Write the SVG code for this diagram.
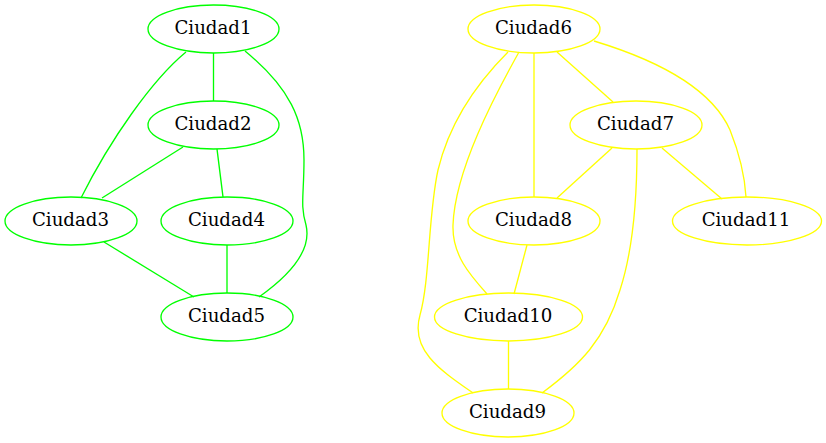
<svg xmlns="http://www.w3.org/2000/svg" width="826" height="443" viewBox="0 0 826 443">
<style>
.g ellipse{fill:none;stroke:#00ff00;stroke-width:1.33}
.y ellipse{fill:none;stroke:#ffff00;stroke-width:1.33}
text{font-family:"DejaVu Serif","Liberation Serif",serif;font-size:18.2px;fill:#000;text-anchor:middle}
.eg path{fill:none;stroke:#00ff00;stroke-width:1.33}
.ey path{fill:none;stroke:#ffff00;stroke-width:1.33}
</style>
<rect width="826" height="443" fill="#fff"/>
<g id="edges">
<g class="eg">
<path d="M213.5,53 L213.5,101"/>
<path d="M186,52 C152,80 110,140 81,198"/>
<path d="M245,51 C290,88 304,120 304,160 C304,195 300,205 306,225 C312,250 290,275 259,297"/>
<path d="M183,147 L102,198"/>
<path d="M217,149 L223,197"/>
<path d="M104,242 L194,297"/>
<path d="M227,245 L227,293"/>
</g>
<g class="ey">
<path d="M557,52 L613,102"/>
<path d="M534,53 L534,197"/>
<path d="M594,41 C650,58 710,85 730,130 C742,160 745,180 746,197"/>
<path d="M508,52 C480,80 450,120 438,170 C428,215 430,280 420,315 C410,350 440,370 473,393"/>
<path d="M519,52 C495,95 455,170 453,225 C452,255 470,275 487,294"/>
<path d="M612,148 L557,198"/>
<path d="M662,148 L722,199"/>
<path d="M637,149 C637,200 633,250 620,290 C605,340 580,365 542,393"/>
<path d="M527,245 L514,294"/>
<path d="M508.5,341 L508.5,389"/>
</g>
</g>
<g id="Ciudad1" class="g"><ellipse cx="213.5" cy="29" rx="65.5" ry="24"/><text x="213" y="34">Ciudad1</text></g>
<g id="Ciudad2" class="g"><ellipse cx="213.5" cy="125" rx="65.5" ry="24"/><text x="213" y="130">Ciudad2</text></g>
<g id="Ciudad3" class="g"><ellipse cx="71" cy="221" rx="66" ry="24"/><text x="70.5" y="226">Ciudad3</text></g>
<g id="Ciudad4" class="g"><ellipse cx="227" cy="221" rx="66" ry="24"/><text x="226.5" y="226">Ciudad4</text></g>
<g id="Ciudad5" class="g"><ellipse cx="227" cy="317" rx="66" ry="24"/><text x="226.5" y="322">Ciudad5</text></g>
<g id="Ciudad6" class="y"><ellipse cx="534" cy="29" rx="66" ry="24"/><text x="533.5" y="34">Ciudad6</text></g>
<g id="Ciudad7" class="y"><ellipse cx="636" cy="125" rx="66" ry="24"/><text x="635.5" y="130">Ciudad7</text></g>
<g id="Ciudad8" class="y"><ellipse cx="534" cy="221" rx="66" ry="24"/><text x="533.5" y="226">Ciudad8</text></g>
<g id="Ciudad11" class="y"><ellipse cx="747" cy="221" rx="74.5" ry="24"/><text x="746" y="226">Ciudad11</text></g>
<g id="Ciudad10" class="y"><ellipse cx="508.5" cy="317" rx="74" ry="24"/><text x="508" y="322">Ciudad10</text></g>
<g id="Ciudad9" class="y"><ellipse cx="508" cy="413" rx="66" ry="24"/><text x="507.5" y="418">Ciudad9</text></g>
</svg>
